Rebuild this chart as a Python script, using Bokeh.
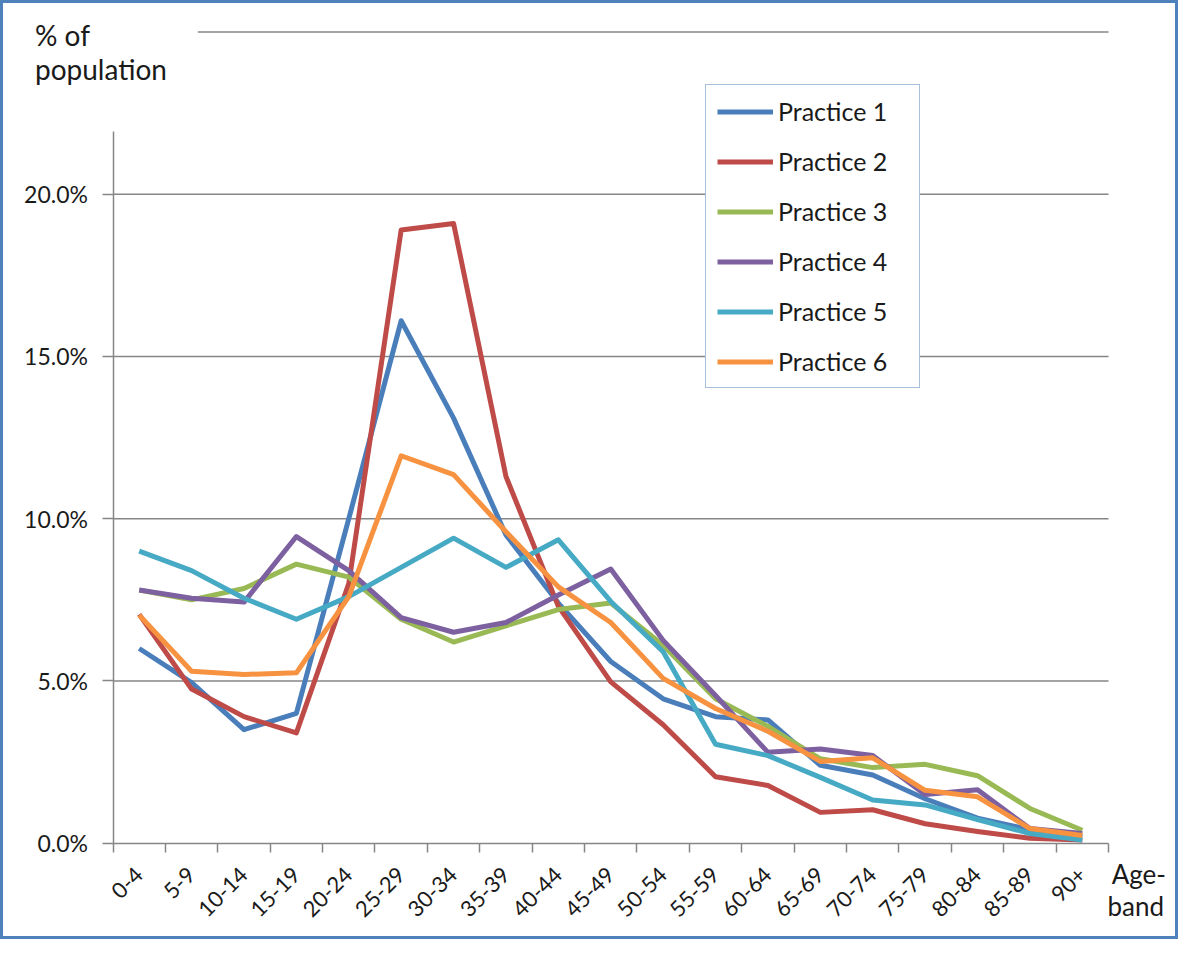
import math
from bokeh.plotting import figure
from bokeh.models import Range1d, FixedTicker, PrintfTickFormatter, Label, Legend, LegendItem
from bokeh.embed import file_html
from bokeh.resources import INLINE

# ---- data (percent of population) ----
age_bands = ["0-4", "5-9", "10-14", "15-19", "20-24", "25-29", "30-34", "35-39", "40-44",
             "45-49", "50-54", "55-59", "60-64", "65-69", "70-74", "75-79", "80-84", "85-89", "90+"]

practice_1 = [6.0, 4.95, 3.5, 4.0, 10.0, 16.1, 13.1, 9.5, 7.4, 5.6, 4.45, 3.9, 3.8, 2.4, 2.1, 1.37, 0.77, 0.42, 0.2]
practice_2 = [7.05, 4.75, 3.9, 3.4, 8.0, 18.9, 19.1, 11.3, 7.3, 4.97, 3.65, 2.05, 1.78, 0.95, 1.03, 0.6, 0.36, 0.15, 0.1]
practice_3 = [7.8, 7.5, 7.85, 8.6, 8.2, 6.9, 6.2, 6.7, 7.2, 7.4, 6.1, 4.45, 3.6, 2.6, 2.33, 2.43, 2.08, 1.07, 0.4]
practice_4 = [7.8, 7.55, 7.43, 9.45, 8.4, 6.95, 6.5, 6.8, 7.65, 8.45, 6.25, 4.55, 2.8, 2.9, 2.7, 1.5, 1.65, 0.45, 0.3]
practice_5 = [9.0, 8.4, 7.55, 6.9, 7.6, 8.5, 9.4, 8.5, 9.35, 7.45, 5.9, 3.05, 2.7, 2.03, 1.33, 1.18, 0.73, 0.3, 0.1]
practice_6 = [7.03, 5.3, 5.2, 5.25, 7.6, 11.94, 11.36, 9.6, 7.9, 6.8, 5.08, 4.15, 3.45, 2.52, 2.63, 1.63, 1.43, 0.45, 0.24]

series_names = ["Practice 1", "Practice 2", "Practice 3", "Practice 4", "Practice 5", "Practice 6"]
series_values = [practice_1, practice_2, practice_3, practice_4, practice_5, practice_6]
series_colors = ["#4A7EBB", "#BE4B48", "#98B954", "#7D60A0", "#46AAC5", "#F69240"]

y_ticks = [0, 5, 10, 15, 20]
y_top_grid = 25

FONT = "Lato"
GRID = "#868686"
TEXT = "#1a1a1a"

n = len(age_bands)
p = figure(width=1178, height=939, output_backend="svg", toolbar_location=None, title=None,
           x_range=Range1d(-2.090, 20.393), y_range=Range1d(-3.060, 25.877),
           min_border=0)
p.styles = {"border": "3px solid #4F81BD"}
p.outline_line_color = None
p.background_fill_color = "white"
p.border_fill_color = "white"
p.xgrid.visible = False
p.ygrid.visible = False

# horizontal gridlines (the top one starts right of the axis title)
p.segment(x0=[0] * (len(y_ticks) - 1), y0=y_ticks[1:], x1=[n] * (len(y_ticks) - 1), y1=y_ticks[1:],
          line_color=GRID, line_width=1.5)
p.segment(x0=[1.62], y0=[y_top_grid], x1=[n], y1=[y_top_grid], line_color=GRID, line_width=1.5)

# x axis: labels at band centres, tick marks on band boundaries
centers = [i + 0.5 for i in range(n)]
p.xaxis.fixed_location = 0
p.xaxis.bounds = (0, n)
p.xaxis.ticker = FixedTicker(ticks=centers, minor_ticks=list(range(n + 1)))
p.xaxis.major_label_overrides = {c: lab for c, lab in zip(centers, age_bands)}
p.xaxis.major_tick_out = 0
p.xaxis.major_tick_in = 0
p.xaxis.minor_tick_out = 9
p.xaxis.minor_tick_in = 0
p.xaxis.minor_tick_line_color = GRID
p.xaxis.minor_tick_line_width = 1.5
p.xaxis.axis_line_color = GRID
p.xaxis.axis_line_width = 1.5
p.xaxis.major_label_orientation = math.pi / 4
p.xaxis.major_label_text_font = FONT
p.xaxis.major_label_text_font_size = "22px"
p.xaxis.major_label_text_color = TEXT
p.xaxis.major_label_standoff = 19

# y axis
p.yaxis.fixed_location = 0
p.yaxis.bounds = (0, 21.94)
p.yaxis.ticker = FixedTicker(ticks=y_ticks, minor_ticks=[])
p.yaxis.formatter = PrintfTickFormatter(format="%.1f%%")
p.yaxis.major_tick_out = 11
p.yaxis.major_tick_in = 0
p.yaxis.minor_tick_line_color = None
p.yaxis.major_tick_line_color = GRID
p.yaxis.major_tick_line_width = 1.5
p.yaxis.axis_line_color = GRID
p.yaxis.axis_line_width = 1.5
p.yaxis.major_label_text_font = FONT
p.yaxis.major_label_text_font_size = "23px"
p.yaxis.major_label_text_color = TEXT
p.yaxis.major_label_standoff = 14

items = []
for name, vals, col in zip(series_names, series_values, series_colors):
    r = p.line(centers, vals, line_color=col, line_width=5, line_join="round")
    items.append(LegendItem(label=name, renderers=[r]))

legend = Legend(items=items, location=(702, 554))
legend.border_line_color = "#4F81BD"
legend.border_line_width = 1.5
legend.background_fill_color = "white"
legend.background_fill_alpha = 1.0
legend.label_text_font = FONT
legend.label_text_font_size = "25px"
legend.label_text_color = TEXT
legend.glyph_width = 56
legend.glyph_height = 27
legend.label_height = 27
legend.label_width = 130
legend.label_standoff = 5
legend.spacing = 20
legend.padding = 11
legend.margin = 0
p.add_layout(legend)

for txt, x, y, fs in [("% of", -1.489, 24.91, "28px"), ("population", -1.489, 23.85, "28px"),
                      ("Age-", 19.06, -0.95, "26px"), ("band", 18.98, -1.95, "26px")]:
    p.add_layout(Label(x=x, y=y, text=txt, text_font=FONT, text_font_size=fs,
                       text_color=TEXT, text_baseline="alphabetic", text_align="left"))

open("out.html", "w").write(file_html(p, INLINE))
